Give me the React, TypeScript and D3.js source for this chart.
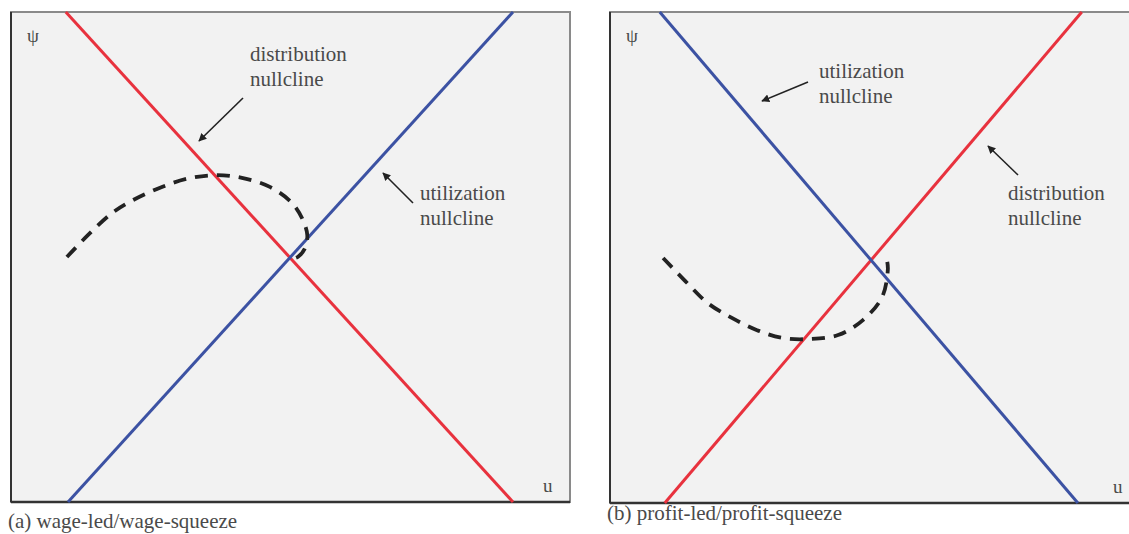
import React from "react";
import * as d3 from "d3";

// ---- data (u, psi in 0..100 panel units) ----
const panelACaption = "(a) wage-led/wage-squeeze";
const panelBCaption = "(b) profit-led/profit-squeeze";

const aDistribution: [number, number][] = [[9.8, 100], [89.8, 0]];
const aUtilization: [number, number][] = [[10.2, 0], [89.8, 100]];
const aPath: [number, number][] = [
  [10.0, 50.0], [13.8, 54.5], [18.1, 59.0], [21.8, 61.6], [27.0, 64.3], [32.0, 66.1],
  [36.9, 66.7], [41.5, 66.1], [46.3, 64.3], [50.3, 61.0], [52.2, 57.6], [53.0, 54.5],
  [52.6, 51.8], [51.3, 50.0], [50.3, 49.6],
];

const bUtilization: [number, number][] = [[8.9, 100], [83.7, 0]];
const bDistribution: [number, number][] = [[9.8, 0], [84.4, 100]];
const bPath: [number, number][] = [
  [9.5, 49.9], [13.8, 44.8], [17.5, 40.7], [21.8, 37.7], [26.3, 35.2], [30.9, 33.6],
  [35.8, 33.4], [40.8, 34.2], [45.3, 37.3], [48.7, 42.0], [49.7, 47.5], [49.6, 49.1],
];

const RED = "#e8323e";
const BLUE = "#3c52a3";
const TEXT = "#4a4a4a";
const FONT = "Liberation Serif";

type Label = { lines: string[]; x: number; y: number; arrow: [number, number, number, number] };

const aLabels: Label[] = [
  { lines: ["distribution", "nullcline"], x: 250, y: 61, arrow: [243, 98, 199, 141] },
  { lines: ["utilization", "nullcline"], x: 420, y: 200, arrow: [413, 203, 383, 173] },
];
const bLabels: Label[] = [
  { lines: ["utilization", "nullcline"], x: 819, y: 78, arrow: [808, 82, 762, 101] },
  { lines: ["distribution", "nullcline"], x: 1008, y: 200, arrow: [1018, 175, 988, 146] },
];

function Panel({ x0, y0, x1, y1, red, blue, path, labels, caption, capY, uX }: any) {
  const xs = d3.scaleLinear().domain([0, 100]).range([x0, x1]);
  const ys = d3.scaleLinear().domain([0, 100]).range([y1, y0]);
  const line = d3.line<[number, number]>().x((d) => xs(d[0])).y((d) => ys(d[1]));
  const curve = d3.line<[number, number]>().x((d) => xs(d[0])).y((d) => ys(d[1])).curve(d3.curveCatmullRom.alpha(0.5));
  return (
    <g>
      <rect x={x0} y={y0} width={x1 - x0} height={y1 - y0} fill="#f2f2f2" stroke="#8a8a8a" strokeWidth={2} />
      <line x1={x0} y1={y0} x2={x0} y2={y1} stroke="#333" strokeWidth={2} />
      <line x1={x0} y1={y1} x2={x1} y2={y1} stroke="#333" strokeWidth={2.5} />
      <path d={line(red) || ""} stroke={RED} strokeWidth={3} fill="none" />
      <path d={line(blue) || ""} stroke={BLUE} strokeWidth={3} fill="none" />
      <path d={curve(path) || ""} stroke="#222" strokeWidth={3.8} fill="none" strokeDasharray="13 9" />
      <text x={x0 + 16} y={y0 + 30} style={{ fontFamily: FONT }} fontSize={19} fill={TEXT}>ψ</text>
      <text x={uX} y={y1 - 10} style={{ fontFamily: FONT }} fontSize={19} fill={TEXT}>u</text>
      {labels.map((l: Label, i: number) => (
        <g key={i}>
          {l.lines.map((s, j) => (
            <text key={j} x={l.x} y={l.y + j * 25} style={{ fontFamily: FONT }} fontSize={21} fill={TEXT}>{s}</text>
          ))}
          <line x1={l.arrow[0]} y1={l.arrow[1]} x2={l.arrow[2]} y2={l.arrow[3]} stroke="#222" strokeWidth={1.6} markerEnd="url(#arr)" />
        </g>
      ))}
      <text x={x0 - 3} y={capY} style={{ fontFamily: FONT }} fontSize={21} fill={TEXT}>{caption}</text>
    </g>
  );
}

export default function App() {
  return (
    <div style={{ position: "absolute", left: 0, top: 0 }}>
      <svg width={1129} height={534} style={{ display: "block", background: "#fff" }}>
        <defs>
          <marker id="arr" viewBox="0 0 10 10" refX="9" refY="5" markerWidth="8" markerHeight="8" orient="auto" markerUnits="userSpaceOnUse">
            <path d="M0,0 L10,5 L0,10 z" fill="#222" />
          </marker>
        </defs>
        <Panel x0={11} y0={12} x1={570} y1={502} red={aDistribution} blue={aUtilization} path={aPath}
          labels={aLabels} caption={panelACaption} capY={528} uX={543} />
        <Panel x0={610} y0={12} x1={1169} y1={503} red={bDistribution} blue={bUtilization} path={bPath}
          labels={bLabels} caption={panelBCaption} capY={520} uX={1113} />
      </svg>
    </div>
  );
}
